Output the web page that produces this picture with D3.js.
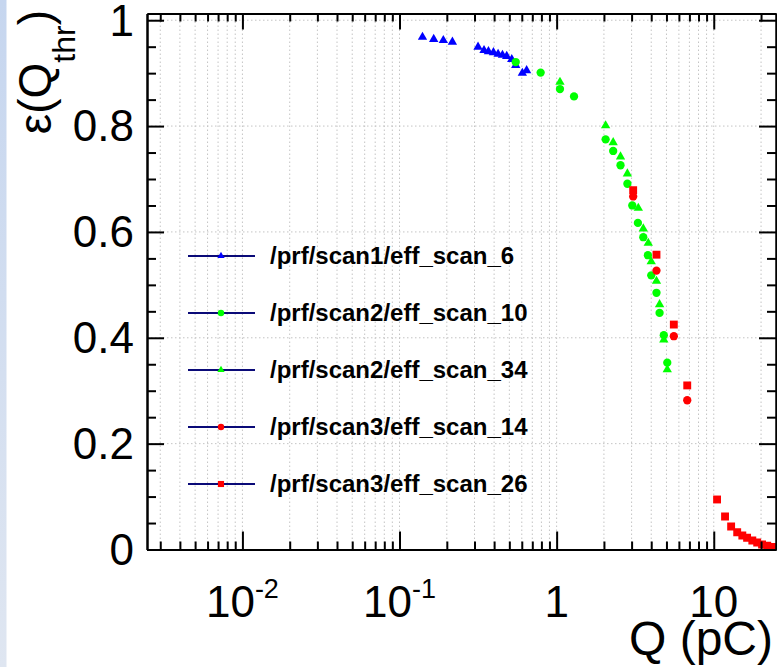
<!DOCTYPE html>
<html>
<head>
<meta charset="utf-8">
<script src="https://cdn.jsdelivr.net/npm/d3@7"></script>
<style>
  body { margin: 0; background: #fff; }
  svg { display: block; font-family: 'Liberation Sans', Arial, Helvetica, sans-serif; }
</style>
</head>
<body>
<div id="chart"></div>
<script>
// Values: charge threshold Q (pC) and efficiency
let scan1_6_q = [0.140, 0.165, 0.190, 0.217, 0.316, 0.345, 0.368, 0.396, 0.424, 0.452, 0.481, 0.518, 0.549, 0.605, 0.644];
let scan1_6_eff = [0.968, 0.964, 0.962, 0.959, 0.9495, 0.943, 0.941, 0.939, 0.936, 0.934, 0.932, 0.926, 0.915, 0.900, 0.905];

let scan2_10_q = [0.549, 0.791, 1.05, 1.29, 2.05, 2.29, 2.55, 2.82, 3.03, 3.29, 3.56, 3.81, 4.00, 4.32, 4.52, 4.81, 5.06];
let scan2_10_eff = [0.921, 0.901, 0.870, 0.856, 0.775, 0.753, 0.726, 0.691, 0.650, 0.617, 0.590, 0.556, 0.518, 0.485, 0.447, 0.405, 0.353];

let scan2_34_q = [1.05, 2.05, 2.29, 2.55, 2.82, 3.31, 3.56, 3.83, 4.00, 4.32, 4.52, 4.81, 5.06];
let scan2_34_eff = [0.883, 0.801, 0.769, 0.742, 0.710, 0.645, 0.606, 0.579, 0.544, 0.507, 0.463, 0.396, 0.340];

let scan3_14_q = [3.07, 4.32, 5.57, 6.78];
let scan3_14_eff = [0.667, 0.527, 0.403, 0.282];

let scan3_26_q = [3.07, 4.32, 5.57, 6.78, 10.5, 11.8, 12.9, 14.1, 15.2, 16.3, 17.6, 18.9, 20.3, 21.9, 23.5, 25.1];
let scan3_26_eff = [0.679, 0.557, 0.425, 0.310, 0.0945, 0.0624, 0.0435, 0.0327, 0.0265, 0.0221, 0.017, 0.0132, 0.0095, 0.007, 0.005, 0.004];

let series_names = ['/prf/scan1/eff_scan_6', '/prf/scan2/eff_scan_10', '/prf/scan2/eff_scan_34', '/prf/scan3/eff_scan_14', '/prf/scan3/eff_scan_26'];

let y_tick_values = [0, 0.2, 0.4, 0.6, 0.8, 1];
let y_tick_labels = ['0', '0.2', '0.4', '0.6', '0.8', '1'];
let x_tick_values = [0.01, 0.1, 1, 10];
let x_tick_base = ['10', '10', '1', '10'];
let x_tick_exp = ['-2', '-1', '', ''];

// Declaring sizes
let svgwidth = 777;
let svgheight = 667;
let pleft = 147, pright = 776, ptop = 13.5, pbottom = 549.5;

let series = [
  { name: series_names[0], q: scan1_6_q, eff: scan1_6_eff, color: '#0000ff', shape: d3.symbolTriangle, size: 38 },
  { name: series_names[1], q: scan2_10_q, eff: scan2_10_eff, color: '#00ff00', shape: d3.symbolCircle, size: 54 },
  { name: series_names[2], q: scan2_34_q, eff: scan2_34_eff, color: '#00ff00', shape: d3.symbolTriangle, size: 38 },
  { name: series_names[3], q: scan3_14_q, eff: scan3_14_eff, color: '#ff0000', shape: d3.symbolCircle, size: 54 },
  { name: series_names[4], q: scan3_26_q, eff: scan3_26_eff, color: '#ff0000', shape: d3.symbolSquare, size: 62 },
];

let xscale = d3.scaleLog().domain([0.00247, 24.9]).range([pleft, pright]);
let yscale = d3.scaleLinear().domain([0, 1.0127]).range([pbottom, ptop]);

let svg = d3.select('#chart')
  .append('svg')
  .attr('width', svgwidth)
  .attr('height', svgheight);

let defs = svg.append('defs');
let strip = defs.append('linearGradient')
  .attr('id', 'strip')
  .attr('x1', '0%').attr('x2', '0%')
  .attr('y1', '0%').attr('y2', '100%');
strip.append('stop').attr('offset', '0%').attr('stop-color', '#c6d6ef');
strip.append('stop').attr('offset', '100%').attr('stop-color', '#dfe6f1');

defs.append('clipPath')
  .attr('id', 'plotclip')
  .append('rect')
  .attr('x', pleft).attr('y', ptop)
  .attr('width', pright - pleft).attr('height', pbottom - ptop);

// slide edge on the left
svg.append('rect')
  .attr('x', 0).attr('y', 0)
  .attr('width', 6.5).attr('height', svgheight)
  .attr('fill', 'url(#strip)');

// grid (dotted)
let xminor = xscale.ticks();
let ymajor = y_tick_values;
let ytickall = d3.range(0, 1.0001, 0.05);

let grid = svg.append('g').attr('class', 'grid');
grid.selectAll('line.gx')
  .data(xminor)
  .join('line')
  .attr('class', 'gx')
  .attr('x1', (d) => xscale(d)).attr('x2', (d) => xscale(d))
  .attr('y1', ptop).attr('y2', pbottom)
  .attr('stroke', '#c4c4c4')
  .attr('stroke-width', 1)
  .attr('stroke-dasharray', '1.5,2.5');
grid.selectAll('line.gy')
  .data(ymajor)
  .join('line')
  .attr('class', 'gy')
  .attr('x1', pleft).attr('x2', pright)
  .attr('y1', (d) => yscale(d)).attr('y2', (d) => yscale(d))
  .attr('stroke', '#c4c4c4')
  .attr('stroke-width', 1)
  .attr('stroke-dasharray', '1.5,2.5');

// markers
let plot = svg.append('g').attr('clip-path', 'url(#plotclip)');
series.forEach(function (s) {
  let pts = s.q.map((q, i) => ({ q: q, eff: s.eff[i] }));
  plot.append('g')
    .selectAll('path')
    .data(pts)
    .join('path')
    .attr('d', d3.symbol().type(s.shape).size(s.size))
    .attr('transform', (d) => `translate(${xscale(d.q)}, ${yscale(d.eff)})`)
    .attr('fill', s.color);
});

// Axes: ticks point inwards on all four sides
let isMajor = (d) => Math.abs(Math.log10(d) - Math.round(Math.log10(d))) < 1e-6;
let xmaj = xminor.filter(isMajor);
let xmin = xminor.filter((d) => !isMajor(d));
let ymaj = ytickall.filter((d, i) => i % 4 === 0);
let ymin = ytickall.filter((d, i) => i % 4 !== 0);

function styleAxis(g) {
  g.selectAll('path.domain').attr('stroke', '#000').attr('stroke-width', 2);
  g.selectAll('line').attr('stroke', '#000').attr('stroke-width', 2);
}

let ax = svg.append('g');
ax.append('g').attr('transform', `translate(0, ${pbottom})`)
  .call(d3.axisBottom(xscale).tickValues(xmin).tickSize(-8).tickSizeOuter(0).tickFormat(''))
  .call(styleAxis);
ax.append('g').attr('transform', `translate(0, ${pbottom})`)
  .call(d3.axisBottom(xscale).tickValues(xmaj).tickSize(-18).tickSizeOuter(0).tickFormat(''))
  .call(styleAxis);
ax.append('g').attr('transform', `translate(0, ${ptop})`)
  .call(d3.axisTop(xscale).tickValues(xmin).tickSize(-8).tickSizeOuter(0).tickFormat(''))
  .call(styleAxis);
ax.append('g').attr('transform', `translate(0, ${ptop})`)
  .call(d3.axisTop(xscale).tickValues(xmaj).tickSize(-16).tickSizeOuter(0).tickFormat(''))
  .call(styleAxis);
ax.append('g').attr('transform', `translate(${pleft}, 0)`)
  .call(d3.axisLeft(yscale).tickValues(ymin).tickSize(-9).tickSizeOuter(0).tickFormat(''))
  .call(styleAxis);
ax.append('g').attr('transform', `translate(${pleft}, 0)`)
  .call(d3.axisLeft(yscale).tickValues(ymaj).tickSize(-17).tickSizeOuter(0).tickFormat(''))
  .call(styleAxis);
ax.append('g').attr('transform', `translate(${pright}, 0)`)
  .call(d3.axisRight(yscale).tickValues(ymin).tickSize(-9).tickSizeOuter(0).tickFormat(''))
  .call(styleAxis);
ax.append('g').attr('transform', `translate(${pright}, 0)`)
  .call(d3.axisRight(yscale).tickValues(ymaj).tickSize(-17).tickSizeOuter(0).tickFormat(''))
  .call(styleAxis);

// Y tick labels
svg.append('g')
  .selectAll('text')
  .data(y_tick_values)
  .join('text')
  .text((d, i) => y_tick_labels[i])
  .attr('x', 134)
  .attr('y', (d) => yscale(d))
  .attr('dy', '0.35em')
  .attr('text-anchor', 'end')
  .attr('font-size', 44)
  .attr('fill', '#000');

// X tick labels with powers of ten
let xl = svg.append('g')
  .selectAll('text')
  .data(x_tick_values)
  .join('text')
  .attr('x', (d) => xscale(d))
  .attr('y', 617)
  .attr('text-anchor', 'middle')
  .attr('font-size', 44)
  .attr('fill', '#000');
xl.append('tspan').text((d, i) => x_tick_base[i]);
xl.append('tspan')
  .text((d, i) => x_tick_exp[i])
  .attr('font-size', 27)
  .attr('dy', -19);

// Axis titles
svg.append('text')
  .text('Q (pC)')
  .attr('x', 773)
  .attr('y', 655)
  .attr('text-anchor', 'end')
  .attr('font-size', 48)
  .attr('fill', '#000');

let ytitle = svg.append('text')
  .attr('transform', 'translate(51, 10) rotate(-90)')
  .attr('text-anchor', 'end')
  .attr('font-size', 46)
  .attr('fill', '#000');
ytitle.append('tspan').text('ε(Q');
ytitle.append('tspan').text('thr').attr('font-size', 32).attr('dy', 24);
ytitle.append('tspan').text(')').attr('dy', -24);

// Legend
let legend = svg.append('g')
  .selectAll('g')
  .data(series)
  .join('g')
  .attr('transform', (d, i) => `translate(0, ${256 + i * 57})`);
legend.append('line')
  .attr('x1', 188).attr('x2', 255)
  .attr('y1', 0).attr('y2', 0)
  .attr('stroke', '#0a0a78')
  .attr('stroke-width', 2);
legend.append('path')
  .attr('d', (d) => d3.symbol().type(d.shape).size(d.size * 0.6)())
  .attr('transform', 'translate(221, 0)')
  .attr('fill', (d) => d.color);
legend.append('text')
  .text((d) => d.name)
  .attr('x', 270)
  .attr('y', 8)
  .attr('font-size', 24)
  .attr('font-weight', 'bold')
  .attr('fill', '#000');
</script>
</body>
</html>
